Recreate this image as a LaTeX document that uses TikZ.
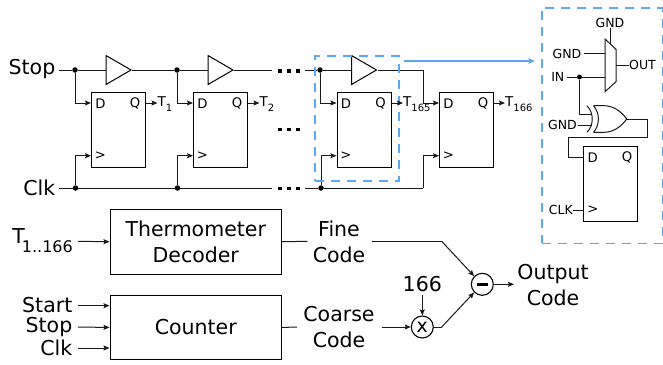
\documentclass[tikz,border=0pt]{standalone}
\usepackage{fontspec}
\setmainfont{DejaVu Sans}
\usetikzlibrary{arrows.meta,shapes.geometric,calc}
\definecolor{dashblue}{HTML}{5AA8F0}
\newcommand{\smfont}{\fontsize{12.5}{14}\selectfont}
\newcommand{\qdfont}{\fontsize{13.2}{14}\selectfont}
\newcommand{\tlab}[1]{\fontsize{13.5}{14}\selectfont T\raisebox{-5pt}{\fontsize{10}{10}\selectfont #1}}
\tikzset{
  x=1pt,y=-1pt,
  wire/.style={line width=1pt,black!90},
  arr/.style={wire,-{Stealth[length=6pt,width=5pt,inset=1pt]}},
  ffbox/.style={draw,line width=1pt,minimum width=54pt,minimum height=75pt,inner sep=0pt,anchor=north west},
  blockbox/.style={draw,line width=1pt,minimum width=171.5pt,minimum height=64.5pt,inner sep=0pt,anchor=north west,align=center,font=\fontsize{20.5}{26}\selectfont},
  buffer/.style={draw,line width=1pt,isosceles triangle,isosceles triangle stretches,shape border rotate=0,minimum width=29pt,minimum height=25pt,inner sep=0pt,anchor=west},
  biglabel/.style={inner sep=0pt,font=\fontsize{20.5}{26}\selectfont,align=center},
  smlabel/.style={inner sep=0pt,font=\smfont},
  qdlabel/.style={inner sep=0pt,font=\qdfont},
  jdot/.style={circle,fill=black,inner sep=0pt,minimum size=5.5pt},
  opcircle/.style={draw,circle,line width=1.1pt,inner sep=0pt,minimum size=22pt},
  dotsrow/.style={line width=3.6pt,dash pattern=on 4pt off 5pt},
  bluebox/.style={draw=dashblue,line width=1.7pt,dash pattern=on 9pt off 7pt},
}
\begin{document}
\begin{tikzpicture}
\useasboundingbox (0,0) rectangle (663,364);
% rows
\coordinate (yS) at (0,70);
\coordinate (yD) at (0,103);
\coordinate (yC) at (0,155.7);
\coordinate (yK) at (0,188);
% labels
\node[biglabel,anchor=east] (stop) at (55.5,69) {Stop};
\node[biglabel,anchor=east] (clk) at (55.5,188) {Clk};
% flip flops
\foreach \n/\xx in {1/91,2/193,3/336.5,4/439}{
  \node[ffbox] (ff\n) at (\xx,91.7) {};
  \node[qdlabel,anchor=center] (d\n) at (\xx+9.5,103.5) {D};
  \node[qdlabel,anchor=center] (q\n) at (\xx+44,103.5) {Q};
  \node[qdlabel,anchor=center] (c\n) at (\xx+9.5,156) {>};
}
% buffers
\node[buffer] (b1) at (105.5,70) {};
\node[buffer] (b2) at (207.5,70) {};
\node[buffer] (b3) at (351,70) {};
% junctions
\node[jdot] (j1) at (75,70) {};
\node[jdot] (j2) at (177,70) {};
\node[jdot] (j3) at (320,70) {};
\node[jdot] (k1) at (75.5,188) {};
\node[jdot] (k2) at (177.5,188) {};
\node[jdot] (k3) at (321,188) {};
% free ends
\coordinate (se) at (272,70);
\coordinate (sb) at (305,70);
\coordinate (ke) at (272,188);
\coordinate (kb) at (305,188);
\coordinate (bend) at (423,70);
\coordinate (kend) at (423,188);
% stop line
\draw[wire] (stop.east |- yS) ++(3,0) -- (j1) -- (b1.west);
\draw[wire] (b1.east) -- (j2) -- (b2.west);
\draw[wire] (b2.east) -- (se);
\draw[wire] (sb) -- (j3) -- (b3.west);
\draw[wire] (b3.east) -- (bend);
\draw[arr] (bend) |- (ff4.west |- yD);
\draw[arr] (j1) |- (ff1.west |- yD);
\draw[arr] (j2) |- (ff2.west |- yD);
\draw[arr] (j3) |- (ff3.west |- yD);
% clk line
\draw[wire] (clk.east |- yK) ++(3,0) -- (k1) -- (k2) -- (ke);
\draw[wire] (kb) -- (k3) -- (kend);
\draw[arr] (k1) |- (ff1.west |- yC);
\draw[arr] (k2) |- (ff2.west |- yC);
\draw[arr] (k3) |- (ff3.west |- yC);
\draw[arr] (kend) |- (ff4.west |- yC);
% dots
\foreach \yy in {70.7,129.3,188.3}{
  \draw[dotsrow] (278,\yy) -- (300,\yy);
}
% highlight
\node[bluebox,minimum width=84pt,minimum height=125pt,inner sep=0pt,anchor=north west] (hl) at (314,55) {};
\node[bluebox,minimum width=120.5pt,minimum height=235.5pt,inner sep=0pt,anchor=north west] (detail) at (541,7) {};
\coordinate (bs) at (404,61);
\coordinate (be) at (535,61);
\draw[draw=dashblue,line width=1.7pt,-{Stealth[length=6.5pt,width=5.5pt,inset=1pt]}] (bs) -- (be);
% outputs
\node[inner sep=0pt,anchor=west] (t1) at (157.5,104) {\tlab{1}};
\node[inner sep=0pt,anchor=west] (t2) at (259.5,104) {\tlab{2}};
\node[inner sep=0pt,anchor=west] (t165) at (403,104) {\tlab{165}};
\node[inner sep=0pt,anchor=west] (t166) at (505,104) {\tlab{166}};
\draw[arr] (ff1.east |- yD) -- (t1.west |- yD);
\draw[arr] (ff2.east |- yD) -- (t2.west |- yD);
\draw[arr] (ff3.east |- yD) -- (t165.west |- yD);
\draw[arr] (ff4.east |- yD) -- (t166.west |- yD);
% detail: mux
\coordinate (m1) at (605,39);
\coordinate (m2) at (616,49.3);
\coordinate (m3) at (616,81.7);
\coordinate (m4) at (605,91.7);
\draw[wire] (m1) -- (m2) -- (m3) -- (m4) -- cycle;
\node[smlabel] (gtop) at (610,23) {GND};
\node[smlabel,anchor=east] (g1) at (581.5,53.7) {GND};
\node[smlabel,anchor=east] (in) at (564.5,77) {IN};
\node[smlabel,anchor=west] (out) at (629,65.3) {OUT};
\draw[wire] (gtop.south -| 610.5,0) -- (610.5,44);
\draw[wire] (g1.east) ++(2,0) -- (605,53.7);
\node[jdot,minimum size=5pt] (j4) at (579.5,77) {};
\draw[wire] (in.east) ++(2,0) -- (j4) -- (605,77);
\draw[wire] (616,65.3) -- (out.west);
% xor
\coordinate (xt) at (593.5,105.7);
\coordinate (xb) at (593.5,132.3);
\coordinate (xo) at (626.7,119);
\draw[wire] (xt) .. controls (600,113) and (600,125) .. (xb);
\draw[wire] (587,105.7) .. controls (594,113) and (594,125) .. (587,132.3);
\draw[wire] (xt) -- (604,105.7) .. controls (613,105.7) and (621,111) .. (xo) .. controls (621,127) and (613,132.3) .. (604,132.3) -- (xb);
\draw[wire] (j4) |- (591,114);
\node[smlabel,anchor=east] (g2) at (577,125) {GND};
\draw[wire] (g2.east) ++(1,0) -- (591.5,125);
\node[ffbox] (ff5) at (583.3,145.7) {};
\node[qdlabel] (d5) at (592.8,157.5) {D};
\node[qdlabel] (q5) at (627,157.5) {Q};
\node[qdlabel] (c5) at (592.8,210) {>};
\draw[wire] (xo) -- (647.7,119) -- (647.7,137.3) -- (568.7,137.3) -- (568.7,157) -- (ff5.west |- 0,157);
\node[smlabel,anchor=east] (clk5) at (573,210) {CLK};
\draw[wire] (clk5.east) -- (ff5.west |- 0,210);
% blocks
\node[blockbox] (dec) at (109.5,209) {Thermometer\\Decoder};
\node[blockbox] (cnt) at (109.5,294.7) {Counter};
\node[biglabel,anchor=east] (tall) at (73,241) {T\kern-3pt\raisebox{-9pt}{\fontsize{16}{16}\selectfont 1..166}};
\draw[arr] (78,241.3) -- (dec.west);
\node[biglabel,anchor=east] (start) at (72.5,305.5) {Start};
\node[biglabel,anchor=east] (stop2) at (72.5,327) {Stop};
\node[biglabel,anchor=east] (clk2) at (72.5,348) {Clk};
\draw[arr] (78,305.7) -- (cnt.west |- 0,305.7);
\draw[arr] (78,327) -- (cnt.west);
\draw[arr] (78,348) -- (cnt.west |- 0,348);
% codes
\node[biglabel] (fine) at (339,241.5) {Fine\\Code};
\node[biglabel] (coarse) at (339,327.5) {Coarse\\Code};
\node[opcircle] (minus) at (482.3,284.3) {};
\draw[line width=3pt] (477,284.3) -- (487.6,284.3);
\node[opcircle,font=\fontsize{19}{19}\selectfont] (times) at (422.3,327) {x};
\node[biglabel] (n166) at (422.3,284) {166};
\node[biglabel] (output) at (553,285) {Output\\Code};
\coordinate (f1) at (441.7,241.3);
\coordinate (c1) at (441.7,327);
\draw[wire] (dec.east) -- (307.3,241.3);
\draw[wire] (371.7,241.3) -- (f1);
\draw[arr] (f1) -- (minus.north west);
\draw[wire] (cnt.east) -- (297,327);
\draw[arr] (381.7,327) -- (times.west);
\draw[arr] (n166.south) ++(0,3) -- (times.north);
\draw[wire] (times.east) -- (c1);
\draw[arr] (c1) -- (minus.south west);
\draw[arr] (minus.east) -- (514,284.3);
\end{tikzpicture}
\end{document}
